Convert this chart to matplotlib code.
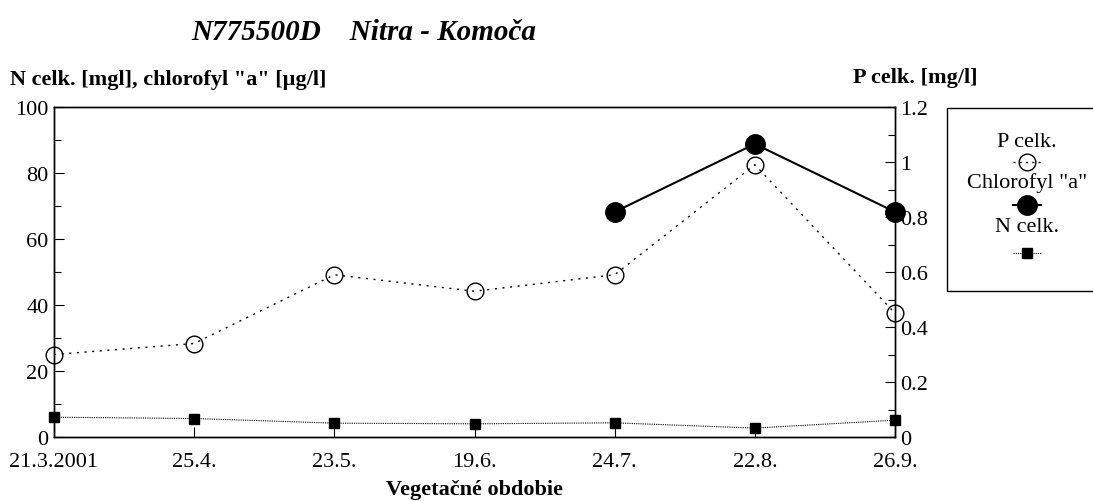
import matplotlib.pyplot as plt
from matplotlib.lines import Line2D
from matplotlib.patches import Rectangle
from matplotlib.ticker import MultipleLocator

plt.rcParams['font.family'] = ['Liberation Serif', 'DejaVu Serif']

# data
dates = ['21.3.2001', '25.4.', '23.5.', '19.6.', '24.7.', '22.8.', '26.9.']
n_celk = [6.0, 5.6, 4.2, 4.0, 4.3, 2.7, 5.1]
p_celk = [0.30, 0.34, 0.59, 0.53, 0.59, 0.99, 0.45]
chl_idx = [4, 5, 6]
chlorofyl = [68.2, 88.8, 68.2]

W, H = 1093, 502
fig = plt.figure(figsize=(W / 100, H / 100), dpi=100)

def fx(px):
    return px / W

def fy(py):
    return 1 - py / H

ax = fig.add_axes([fx(54), fy(438), fx(895) - fx(54), fy(108) - fy(438)])
ax2 = ax.twinx()

x = list(range(len(dates)))

ax.plot(x, n_celk, color='black', lw=0.8, ls=(0, (1, 1)),
        marker='s', ms=7, mfc='black', mec='black', clip_on=False, zorder=3)
ax.plot(chl_idx, chlorofyl, color='black', lw=1.5, ls='-',
        marker='o', ms=14, mfc='black', mec='black', clip_on=False, zorder=4)
ax2.plot(x, p_celk, color='black', lw=1.0, ls=(0, (1.5, 4)),
         marker='o', ms=12, mfc='none', mec='black', mew=1.0, clip_on=False)

ax.set_xlim(0, 6)
ax.set_ylim(0, 100)
ax2.set_ylim(0, 1.2)
ax.set_xticks(x)
ax.set_xticklabels(dates)
ax.yaxis.set_major_locator(MultipleLocator(20))
ax.yaxis.set_minor_locator(MultipleLocator(10))
ax2.yaxis.set_minor_locator(MultipleLocator(0.1))
ax2.set_yticks([0, 0.2, 0.4, 0.6, 0.8, 1.0, 1.2])
ax2.set_yticklabels(['0', '0.2', '0.4', '0.6', '0.8', '1', '1.2'])

for a in (ax, ax2):
    a.tick_params(which='major', direction='in', length=7, width=0.8, labelsize=16, pad=4)
    a.tick_params(which='minor', direction='in', length=5, width=0.8)
    for s in a.spines.values():
        s.set_linewidth(1.0)
ax.tick_params(axis='x', pad=11)

fig.text(fx(364), fy(33), 'N775500D    Nitra - Komoča', fontsize=21,
         fontweight='bold', fontstyle='italic', ha='center', va='center')
fig.text(fx(10), fy(80), 'N celk. [mgl], chlorofyl "a" [µg/l]', fontsize=16,
         fontweight='bold', ha='left', va='center')
fig.text(fx(853), fy(78), 'P celk. [mg/l]', fontsize=16,
         fontweight='bold', ha='left', va='center')
fig.text(fx(475), fy(490), 'Vegetačné obdobie', fontsize=16,
         fontweight='bold', ha='center', va='center')

# legend box drawn by hand, it runs off the right edge
fig.add_artist(Rectangle((fx(947), fy(292)), fx(1200) - fx(947), fy(109) - fy(292),
                         transform=fig.transFigure, fill=False, lw=1.0, ec='black'))
cx = 1027
entries = [
    ('P celk.', 143, 163, dict(ls=(0, (1.5, 3)), lw=1.0, marker='o', ms=12, mfc='none', mec='black')),
    ('Chlorofyl "a"', 183, 206, dict(ls='-', lw=1.5, marker='o', ms=14, mfc='black', mec='black')),
    ('N celk.', 227, 254, dict(ls=(0, (1, 1)), lw=0.8, marker='s', ms=7, mfc='black', mec='black')),
]
for label, ty, my, style in entries:
    fig.text(fx(cx), fy(ty), label, fontsize=16, ha='center', va='center')
    fig.add_artist(Line2D([fx(cx - 14), fx(cx), fx(cx + 14)], [fy(my)] * 3,
                          transform=fig.transFigure, color='black', markevery=[1],
                          **style))

fig.savefig('out.png', dpi=100)
